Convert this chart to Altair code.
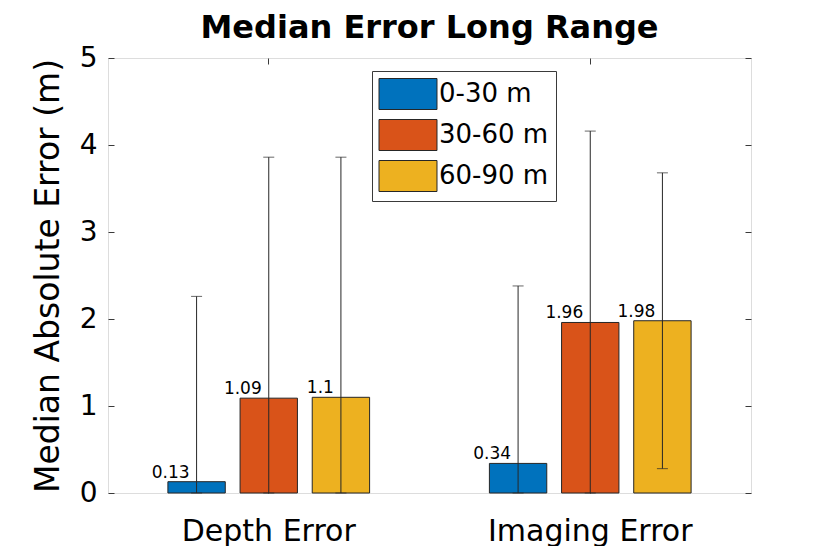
import altair as alt
import pandas as pd

groups = ["Depth Error", "Imaging Error"]
ranges = ["0-30 m", "30-60 m", "60-90 m"]
colors = ["#0072BD", "#D95319", "#EDB120"]

depth_median = [0.13, 1.09, 1.10]
imaging_median = [0.34, 1.96, 1.98]
depth_low = [0.0, 0.0, 0.0]
depth_high = [2.26, 3.86, 3.86]
imaging_low = [0.0, 0.0, 0.28]
imaging_high = [2.38, 4.16, 3.68]

y_ticks = [0, 1, 2, 3, 4, 5]

rows = []
for g, med, lo, hi in [
    (groups[0], depth_median, depth_low, depth_high),
    (groups[1], imaging_median, imaging_low, imaging_high),
]:
    for r, m, l, h in zip(ranges, med, lo, hi):
        rows.append({"group": g, "range": r, "median": m, "low": l, "high": h,
                     "label": f"{m:g}"})
df = pd.DataFrame(rows)

FONT = "DejaVu Sans"
EDGE = "#262626"
AX = "#3a3a3a"

x_enc = alt.X("group:N", sort=groups,
              scale=alt.Scale(paddingInner=0, paddingOuter=0),
              axis=alt.Axis(title=None, orient="bottom", domain=False, ticks=True,
                            tickSize=6, offset=-6, tickColor=AX, labelAngle=0,
                            labelFont=FONT, labelFontSize=30, labelColor="black",
                            labelBaseline="alphabetic", labelPadding=47,
                            labelLimit=0))
x_top = alt.X("group:N", sort=groups,
              scale=alt.Scale(paddingInner=0, paddingOuter=0),
              axis=alt.Axis(title=None, orient="top", domain=False, ticks=True,
                            tickSize=6, offset=-6, tickColor=AX, labels=False))
xoff = alt.XOffset("range:N", sort=ranges,
                   scale=alt.Scale(paddingInner=0.205, paddingOuter=0.83))

yscale = alt.Scale(domain=[0, 5], nice=False)
y_left = alt.Y("median:Q", scale=yscale,
               axis=alt.Axis(title="Median Absolute Error (m)", orient="left",
                             values=y_ticks, domain=False, grid=False,
                             tickSize=6, offset=-6, tickColor=AX,
                             labelFont=FONT, labelFontSize=28, labelColor="black",
                             labelPadding=11, titleFont=FONT, titleFontSize=33,
                             titleFontWeight="normal", titleColor="black",
                             titlePadding=14))

# wide rectangular swatch: 31 px tall (sqrt(size)), about 58 px wide
legend_path = "M-1.87,-1L1.87,-1L1.87,1L-1.87,1Z"
color_enc = alt.Color("range:N", sort=ranges,
                      scale=alt.Scale(domain=ranges, range=colors),
                      legend=alt.Legend(title=None, orient="none", legendX=264, legendY=13,
                                        symbolType=legend_path, symbolSize=961,
                                        symbolOffset=13,
                                        symbolStrokeColor=EDGE, symbolStrokeWidth=1,
                                        symbolOpacity=1,
                                        labelFont=FONT, labelFontSize=26,
                                        labelColor="black", labelOffset=15,
                                        strokeColor=AX, fillColor="white",
                                        padding=7, rowPadding=5))

base = alt.Chart(df)

bars = base.mark_bar(stroke=EDGE, strokeWidth=1, opacity=1).encode(
    x=x_enc, xOffset=xoff, y=y_left, color=color_enc)

rules = base.mark_rule(color=EDGE, strokeWidth=1).encode(
    x=x_top, xOffset=xoff,
    y=alt.Y("low:Q", scale=yscale,
            axis=alt.Axis(title=None, orient="right", values=y_ticks, domain=False,
                          grid=False, tickSize=6, offset=-6, tickColor=AX,
                          labels=False)),
    y2="high:Q")

cap_hi = base.mark_tick(color=EDGE, size=11, thickness=1).encode(
    x=alt.X("group:N", sort=groups, axis=None), xOffset=xoff,
    y=alt.Y("high:Q", scale=yscale, axis=None))
cap_lo = base.mark_tick(color=EDGE, size=11, thickness=1).encode(
    x=alt.X("group:N", sort=groups, axis=None), xOffset=xoff,
    y=alt.Y("low:Q", scale=yscale, axis=None))

labels = base.mark_text(align="right", baseline="alphabetic", dx=-7, dy=-4,
                        font=FONT, fontSize=17, color="black").encode(
    x=alt.X("group:N", sort=groups, axis=None), xOffset=xoff,
    y=alt.Y("median:Q", scale=yscale, axis=None),
    text="label:N")

chart = alt.layer(bars, rules, cap_hi, cap_lo, labels).resolve_axis(
    x="independent", y="independent"
).properties(
    width=643, height=435,
    title=alt.TitleParams("Median Error Long Range", font=FONT, fontSize=32,
                          fontWeight="bold", color="black", anchor="middle",
                          baseline="alphabetic", offset=2, dy=28),
    autosize=alt.AutoSizeParams(type="none"),
    padding={"left": 100, "top": 50, "right": 70, "bottom": 53},
).configure_view(stroke=AX, strokeWidth=1).configure(background="white")

chart.save("out.html", embed_options={"renderer": "svg", "actions": False})
